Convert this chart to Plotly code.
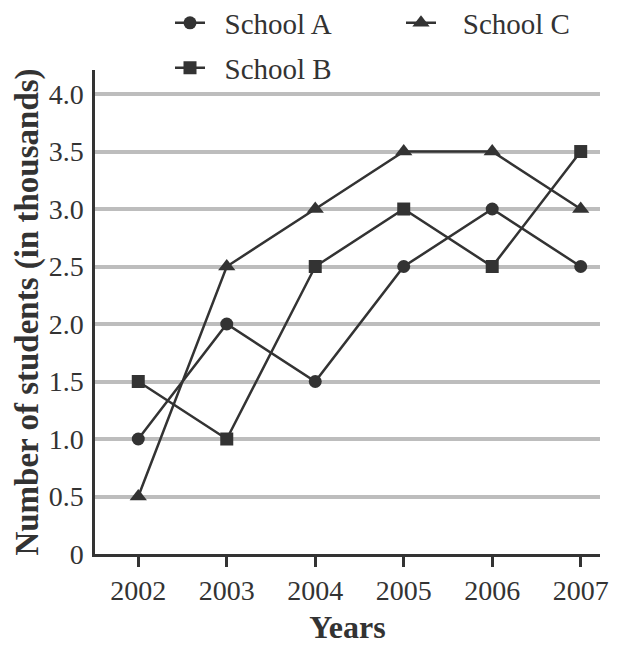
import plotly.graph_objects as go

years = [2002, 2003, 2004, 2005, 2006, 2007]
school_a = [1.0, 2.0, 1.5, 2.5, 3.0, 2.5]
school_b = [1.5, 1.0, 2.5, 3.0, 2.5, 3.5]
school_c = [0.5, 2.5, 3.0, 3.5, 3.5, 3.0]
y_tickvals = [0, 0.5, 1.0, 1.5, 2.0, 2.5, 3.0, 3.5, 4.0]
y_ticktext = ["0", "0.5", "1.0", "1.5", "2.0", "2.5", "3.0", "3.5", "4.0"]

FONT = "Times New Roman, Liberation Serif, DejaVu Serif, serif"
INK = "#333333"
NB = "\u00a0"

fig = go.Figure()
series = [
    (NB * 2 + "School A", school_a, "circle", 13, "legend"),
    (NB * 2 + "School B", school_b, "square", 13, "legend2"),
    (NB * 3 + "School C", school_c, "triangle-up", 15, "legend3"),
]
for name, vals, sym, sz, lg in series:
    fig.add_trace(go.Scatter(
        x=years, y=vals, name=name, mode="lines+markers",
        line=dict(color=INK, width=2.5),
        marker=dict(symbol=sym, size=sz, color=INK),
        legend=lg,
    ))

leg_common = dict(orientation="v", xref="paper", yref="paper",
                  xanchor="left", yanchor="middle", bgcolor="rgba(0,0,0,0)",
                  font=dict(family=FONT, size=29, color=INK))
fig.update_layout(
    width=610, height=637,
    margin=dict(l=87, r=18, t=62, b=91, autoexpand=False),
    paper_bgcolor="white", plot_bgcolor="white",
    font=dict(family=FONT, size=27, color=INK),
    showlegend=True,
    legend=dict(x=(170 - 95) / 505, y=(554 - 23) / 484, **leg_common),
    legend2=dict(x=(170 - 95) / 505, y=(554 - 68) / 484, **leg_common),
    legend3=dict(x=(401 - 95) / 505, y=(554 - 23) / 484, **leg_common),
    xaxis=dict(
        range=[2001.511, 2007.218], tickvals=years,
        showgrid=False, zeroline=False, automargin=False,
        showline=True, linecolor=INK, linewidth=2.5,
        ticks="outside", ticklen=10, tickwidth=2.5, tickcolor=INK,
        tickfont=dict(family=FONT, size=28, color=INK),
        title=dict(text="<b>Years</b>", font=dict(family=FONT, size=32, color=INK), standoff=28),
    ),
    yaxis=dict(
        range=[0, 4.209], tickvals=y_tickvals, ticktext=y_ticktext,
        showgrid=True, gridcolor="#bdbdbd", gridwidth=3.5, zeroline=False, automargin=False,
        showline=True, linecolor=INK, linewidth=2.5,
        ticks="", ticklabelstandoff=3,
        tickfont=dict(family=FONT, size=28, color=INK),
        title=dict(text="<b>Number of students (in thousands)</b>", font=dict(family=FONT, size=33, color=INK), standoff=1),
    ),
)
fig.write_html("out.html")
